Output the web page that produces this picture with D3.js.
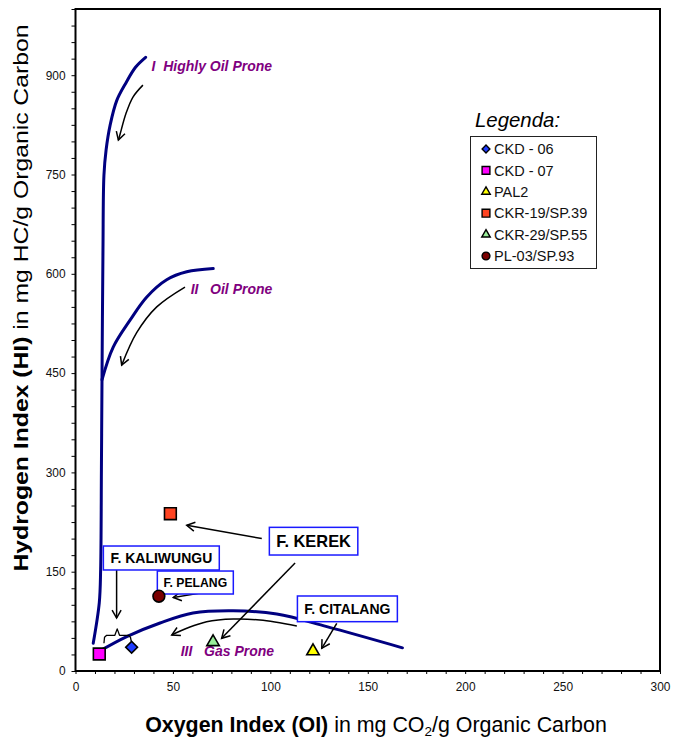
<!DOCTYPE html>
<html>
<head>
  <meta charset="utf-8">
  <title>HI vs OI - Kerogen Type Diagram</title>
  <style>
    body { margin: 0; background: #ffffff; }
    svg { display: block; font-family: "Liberation Sans", Arial, sans-serif; }
  </style>
</head>
<body>
<div id="container"></div>
<script src="https://cdn.jsdelivr.net/npm/d3@7/dist/d3.min.js"></script>
<script>
//******* Data (OI, HI) *******
const sampleNames  = ["CKD - 06", "CKD - 07", "PAL2", "CKR-19/SP.39", "CKR-29/SP.55", "PL-03/SP.93"];
const sampleOI     = [28.8, 12.2, 121.9, 48.7, 70.6, 42.8];
const sampleHI     = [35.8, 25.7, 30.0, 237.6, 43.8, 113.0];
const sampleShapes = ["diamond", "square", "triangle", "square", "triangle", "circle"];
const sampleColors = ["#1f3cff", "#ff00ff", "#ffff00", "#ff4422", "#99ee99", "#7a0000"];

// kerogen type boundary curves, [OI, HI]
const typeI   = [[9.1,42],[12.2,103],[12.9,153],[13.3,304],[13.6,440],[14.1,636],[14.6,749],[15.7,787],[17.8,825],[21.2,862],[25.8,888],[30.8,912],[36,927]];
const typeII  = [[13.6,440],[19.3,489],[28,530],[36.6,565],[46.8,591],[57.1,603],[70.7,608]];
const typeIII = [[11.7,29],[26.3,52],[43.4,72.5],[60.3,87.6],[80.9,91],[103.3,86],[129,67],[167.8,35]];

// curve labels
const typeLabels = ["I\u00a0\u00a0Highly Oil Prone", "II\u00a0\u00a0\u00a0Oil Prone", "III\u00a0\u00a0\u00a0Gas Prone"];
const typeLabelPos = [[39, 907], [59.1, 569], [54, 22.7]];

// annotation arrows, [OI, HI]
const arrowPaths = [
  [[34.6,885],[29.5,867],[25.9,842],[22.8,810],[22,802]],
  [[56.2,580],[41.7,550],[31.4,511],[23.7,462]],
  [[21.1,158],[21.1,80]],
  [[64.8,118],[50.2,111]],
  [[95.6,200],[57.1,220]],
  [[112.7,163],[75,49.4]],
  [[113.6,68],[94.7,77],[81,78.5],[67.3,74.5],[57.1,64.5],[49.4,54.4]],
  [[134.1,72],[126.4,34.3]]
];
const brace = [[14.6,42],[14.9,51],[16,53.9],[20.2,53.9],[21.4,63.6],[22.6,53.9],[27.2,53.9],[28.2,51],[28.6,45]];

// formation boxes: text, [OI left, HI top, OI right, HI bottom], font size
const boxNames  = ["F. KALIWUNGU", "F. PELANG", "F. KEREK", "F. CITALANG"];
const boxCorners = [[14.3,188.8,73.8,152.6],[42,151,81,116.3],[99.5,217,144.9,175.2],[113.9,113.3,165.2,74.5]];
const boxFont   = [14, 12.2, 16.4, 14];

const xTicks = d3.range(0, 301, 10);
const yTicks = d3.range(0, 1001, 25);

const width = 673, height = 740;

var svg = d3.select("#container")
  .append("svg")
  .attr("width", width)
  .attr("height", height);

//******* Scales *******
var x = d3.scaleLinear().domain([0, 300]).range([75.5, 660]);
var y = d3.scaleLinear().domain([0, 1000]).range([671, 9]);

//******* Arrow head *******
svg.append("defs").append("marker")
  .attr("id", "arrow")
  .attr("viewBox", "-10 -6 12 12")
  .attr("refX", 0).attr("refY", 0)
  .attr("markerWidth", 12).attr("markerHeight", 12)
  .attr("markerUnits", "userSpaceOnUse")
  .attr("orient", "auto")
  .append("path")
  .attr("d", "M-8,-4.5L0,0L-8,4.5")
  .attr("fill", "none")
  .attr("stroke", "#000")
  .attr("stroke-width", 1.5);

//******* Axes *******
var xAxis = svg.append("g")
  .attr("transform", `translate(0, ${y(0)})`)
  .call(d3.axisBottom(x).tickValues(xTicks).tickSize(3).tickPadding(9)
    .tickFormat(function(d) { return d % 50 === 0 ? d : ""; }));
var yAxis = svg.append("g")
  .attr("transform", `translate(${x(0)}, 0)`)
  .call(d3.axisLeft(y).tickValues(yTicks).tickSize(4).tickPadding(6)
    .tickFormat(function(d) { return d % 150 === 0 ? d : ""; }));
svg.selectAll(".domain").remove();
svg.selectAll(".tick text")
  .style("font-family", "'Liberation Sans', Arial, sans-serif")
  .style("font-size", "11.9px")
  .attr("fill", "#111");

// plot frame
svg.append("rect")
  .attr("x", x(0)).attr("y", y(1000))
  .attr("width", x(300) - x(0)).attr("height", y(0) - y(1000))
  .attr("fill", "none")
  .attr("stroke", "#000")
  .attr("stroke-width", 2);

//******* Axis titles *******
var yTitle = svg.append("text")
  .attr("transform", `translate(28, 298) rotate(-90)`)
  .attr("text-anchor", "middle")
  .attr("textLength", 547)
  .attr("lengthAdjust", "spacingAndGlyphs")
  .style("font-size", "21px");
yTitle.append("tspan").style("font-weight", "bold").text("Hydrogen Index (HI)");
yTitle.append("tspan").text(" in mg HC/g Organic Carbon");

var xTitle = svg.append("text")
  .attr("x", 376).attr("y", 732)
  .attr("text-anchor", "middle")
  .style("font-size", "21.4px");
xTitle.append("tspan").style("font-weight", "bold").text("Oxygen Index (OI)");
xTitle.append("tspan").text(" in mg CO");
xTitle.append("tspan").attr("dy", 4).style("font-size", "13.5px").text("2");
xTitle.append("tspan").attr("dy", -4).text("/g Organic Carbon");

//******* Kerogen type curves *******
var curveLine = d3.line()
  .x(function(d) { return x(d[0]); })
  .y(function(d) { return y(d[1]); })
  .curve(d3.curveCatmullRom);

[typeI, typeII, typeIII].forEach(function(c) {
  svg.append("path")
    .attr("d", curveLine(c))
    .attr("fill", "none")
    .attr("stroke", "#000080")
    .attr("stroke-width", 3)
    .attr("stroke-linecap", "round");
});

typeLabels.forEach(function(t, i) {
  svg.append("text")
    .attr("x", x(typeLabelPos[i][0]))
    .attr("y", y(typeLabelPos[i][1]))
    .attr("fill", "#800080")
    .style("font-size", "14px")
    .style("font-weight", "bold")
    .style("font-style", "italic")
    .text(t);
});

//******* Annotation arrows *******
arrowPaths.forEach(function(p) {
  svg.append("path")
    .attr("d", curveLine(p))
    .attr("fill", "none")
    .attr("stroke", "#000")
    .attr("stroke-width", 1.5)
    .attr("marker-end", "url(#arrow)");
});
svg.append("path")
  .attr("d", d3.line().x(function(d) { return x(d[0]); }).y(function(d) { return y(d[1]); })(brace))
  .attr("fill", "none")
  .attr("stroke", "#000")
  .attr("stroke-width", 1.3)
  .attr("stroke-linejoin", "round");

//******* Formation boxes *******
boxNames.forEach(function(t, i) {
  var c = boxCorners[i];
  svg.append("rect")
    .attr("x", x(c[0])).attr("y", y(c[1]))
    .attr("width", x(c[2]) - x(c[0])).attr("height", y(c[3]) - y(c[1]))
    .attr("fill", "#fff")
    .attr("stroke", "#1a1aff")
    .attr("stroke-width", 1.5);
  svg.append("text")
    .attr("x", (x(c[0]) + x(c[2])) / 2)
    .attr("y", (y(c[1]) + y(c[3])) / 2)
    .attr("dy", "0.36em")
    .attr("text-anchor", "middle")
    .style("font-size", boxFont[i] + "px")
    .style("font-weight", "bold")
    .attr("fill", "#000")
    .text(t);
});

//******* Sample points *******
function symbolPath(shape, s) {
  if (shape === "diamond") return d3.symbol(d3.symbolSquare, s * s / 2)();
  if (shape === "square") return d3.symbol(d3.symbolSquare, s * s)();
  if (shape === "triangle") return d3.symbol(d3.symbolTriangle, s * s * Math.sqrt(3) / 4)();
  return d3.symbol(d3.symbolCircle, Math.PI * s * s / 4)();
}

sampleNames.forEach(function(n, i) {
  svg.append("path")
    .attr("d", symbolPath(sampleShapes[i], sampleShapes[i] === "triangle" ? 12.5 : 11.8))
    .attr("transform", `translate(${x(sampleOI[i])}, ${y(sampleHI[i])})` +
      (sampleShapes[i] === "diamond" ? " rotate(45)" : ""))
    .attr("fill", sampleColors[i])
    .attr("stroke", "#000")
    .attr("stroke-width", 1.6);
});

//******* Legend *******
svg.append("text")
  .attr("x", 475).attr("y", 127)
  .style("font-size", "20.4px")
  .style("font-style", "italic")
  .text("Legenda:");
svg.append("rect")
  .attr("x", 470.5).attr("y", 136.5)
  .attr("width", 126).attr("height", 132)
  .attr("fill", "#fff")
  .attr("stroke", "#222")
  .attr("stroke-width", 1);

var legend = svg.selectAll(".legendItem")
  .data(sampleNames)
  .enter()
  .append("g")
  .attr("class", "legendItem")
  .attr("transform", function(d, i) { return `translate(486, ${149 + i * 21.4})`; });
legend.append("path")
  .attr("d", function(d, i) { return symbolPath(sampleShapes[i], sampleShapes[i] === "triangle" ? 8.5 : 7.8); })
  .attr("transform", function(d, i) { return sampleShapes[i] === "diamond" ? "rotate(45)" : ""; })
  .attr("fill", function(d, i) { return sampleColors[i]; })
  .attr("stroke", "#000")
  .attr("stroke-width", 1.4);
legend.append("text")
  .attr("x", 8)
  .attr("dy", "0.36em")
  .style("font-size", "14.5px")
  .attr("fill", "#111")
  .text(function(d) { return d; });
</script>
</body>
</html>
